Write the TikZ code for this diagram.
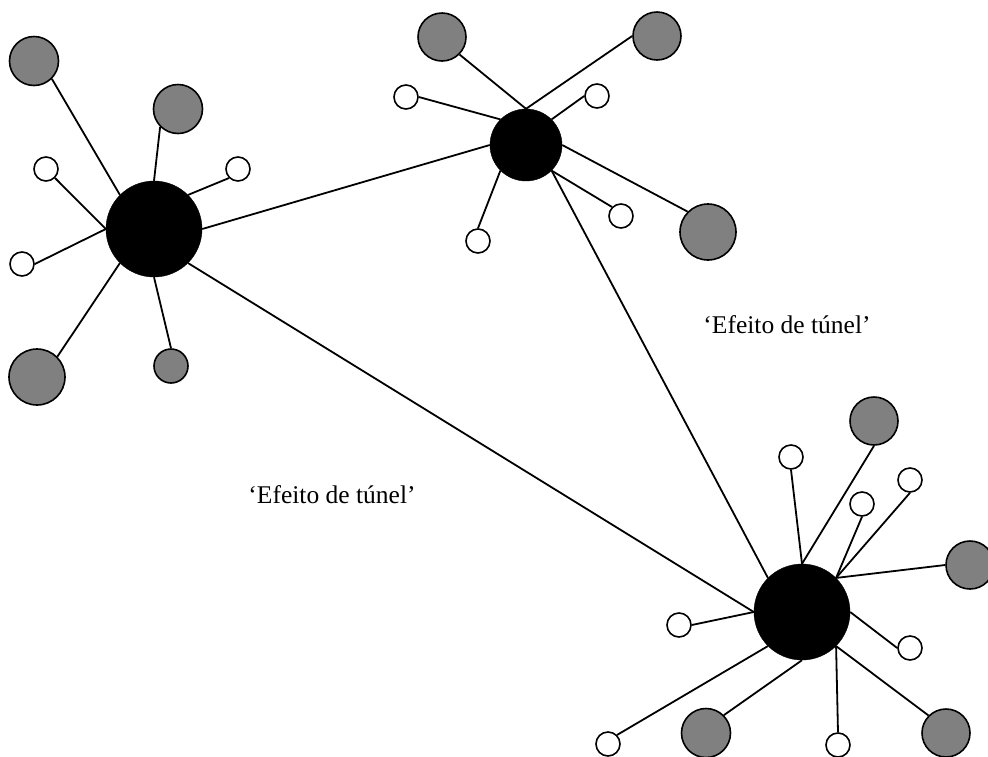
\documentclass[tikz,border=0pt]{standalone}
\usepackage{fontspec}
\setmainfont{Liberation Serif}
\begin{document}
\begin{tikzpicture}[x=1pt,y=-1pt,
  hub/.style={circle,fill=black,draw=black,inner sep=0pt,minimum size=#1},
  gsat/.style={circle,fill=gray50,draw=black,line width=1.6pt,inner sep=0pt,minimum size=#1},
  wsat/.style={circle,fill=white,draw=black,line width=1.6pt,inner sep=0pt,minimum size=24pt},
  link/.style={draw=black,line width=1.8pt},
  lbl/.style={font=\fontsize{25.5}{30}\selectfont,inner sep=0pt}]
\definecolor{gray50}{HTML}{808080}
\useasboundingbox (0,0) rectangle (988,756);
% hubs
\node[hub=96pt] (A) at (154,229) {};
\node[hub=72pt] (B) at (526,145) {};
\node[hub=96pt] (C) at (802,612) {};
% satellites of A
\node[gsat=49pt] (a1) at (34,61) {};
\node[gsat=49pt] (a2) at (178,109) {};
\node[wsat] (a3) at (46,169) {};
\node[wsat] (a4) at (238,169) {};
\node[wsat] (a5) at (22,264) {};
\node[gsat=56pt] (a6) at (37,377) {};
\node[gsat=34pt] (a7) at (171,366) {};
% satellites of B
\node[gsat=48pt] (b1) at (442,37) {};
\node[gsat=48pt] (b2) at (657,36) {};
\node[wsat] (b3) at (406,97) {};
\node[wsat] (b4) at (597,96) {};
\node[gsat=56pt] (b5) at (708,232) {};
\node[wsat] (b6) at (621,216) {};
\node[wsat] (b7) at (478,241) {};
% satellites of C
\node[gsat=48pt] (c1) at (874,421) {};
\node[wsat] (c2) at (791,457) {};
\node[wsat] (c3) at (910,480) {};
\node[wsat] (c4) at (862,504) {};
\node[gsat=48pt] (c5) at (970,565) {};
\node[wsat] (c6) at (679,625) {};
\node[wsat] (c7) at (910,648) {};
\node[wsat] (c8) at (608,744) {};
\node[gsat=49pt] (c9) at (706,733) {};
\node[wsat] (c10) at (838,745) {};
\node[gsat=48pt] (c11) at (946,733) {};
% labels
\node[lbl] (t1) at (787,325) {‘Efeito de túnel’};
\node[lbl] (t2) at (332,495) {‘Efeito de túnel’};
% connectors
\draw[link] (A.north west) -- (a1.south east);
\draw[link] (A.north) -- (a2.south west);
\draw[link] (A.west) -- (a3.south east);
\draw[link] (A.north east) -- (a4.south west);
\draw[link] (A.west) -- (a5.east);
\draw[link] (A.south west) -- (a6.north east);
\draw[link] (A.south) -- (a7.north);
\draw[link] (A.east) -- (B.west);
\draw[link] (A.south east) -- (C.west);
\draw[link] (B.north) -- (b1.south east);
\draw[link] (B.north) -- (b2.west);
\draw[link] (B.north west) -- (b3.east);
\draw[link] (B.north east) -- (b4.west);
\draw[link] (B.east) -- (b5.north west);
\draw[link] (B.south east) -- (b6.north west);
\draw[link] (B.south west) -- (b7.north);
\draw[link] (B.south east) -- (C.north west);
\draw[link] (C.north) -- (c1.south);
\draw[link] (C.north) -- (c2.south);
\draw[link] (C.north east) -- (c3.south);
\draw[link] (C.north east) -- (c4.south);
\draw[link] (C.north east) -- (c5.west);
\draw[link] (C.west) -- (c6.east);
\draw[link] (C.east) -- (c7.west);
\draw[link] (C.south west) -- (c8.north east);
\draw[link] (C.south) -- (c9.north east);
\draw[link] (C.south east) -- (c10.north);
\draw[link] (C.south east) -- (c11.north west);
\end{tikzpicture}
\end{document}
